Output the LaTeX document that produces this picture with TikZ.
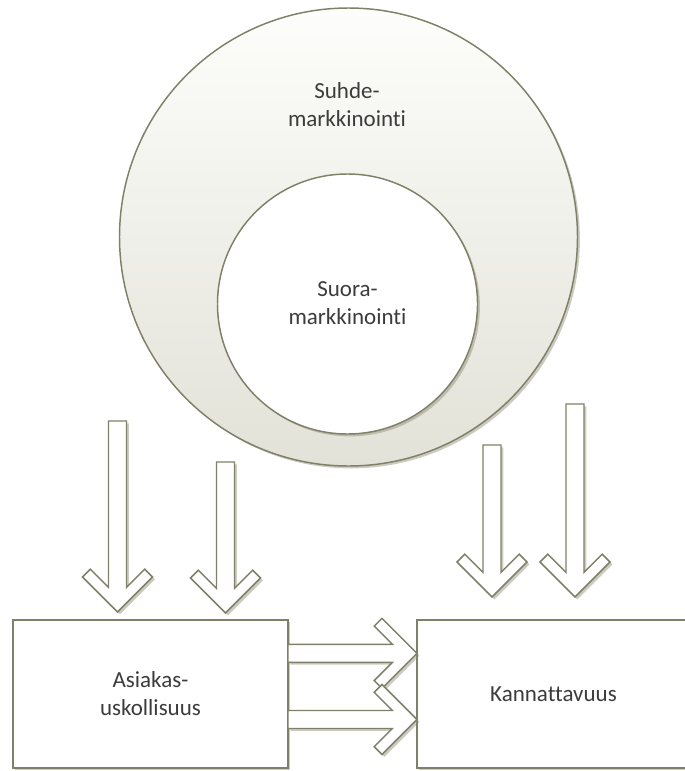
\documentclass[tikz,border=0pt]{standalone}
\usepackage{fontspec}
\setmainfont{Carlito}[Ligatures={NoCommon,NoContextual}]
\usetikzlibrary{shadows,calc}

\definecolor{edge}{RGB}{128,128,104}
\definecolor{shade}{RGB}{140,140,118}
\definecolor{ringlow}{RGB}{226,226,216}
\definecolor{ringtop}{RGB}{253,253,251}
\definecolor{label}{RGB}{60,60,60}

\tikzset{
  softshadow/.style={drop shadow={shadow xshift=1.8pt, shadow yshift=-1.8pt, fill=shade, opacity=0.45}},
  outline/.style={draw=edge, line width=1.1pt},
  blockarrow/.style={outline, fill=white, line join=miter, softshadow},
  caption/.style={text=label, align=center, font=\fontsize{17.25}{21}\selectfont, inner sep=0pt},
  framebox/.style={outline, fill=white, softshadow, outer sep=0pt, minimum height=111pt},
}

% downward block arrow: name, shaft centre x, shaft top y, tip y
\newcommand\downblock[4]{%
  \coordinate (#1) at (#2,#4);
  \draw[blockarrow] (#1) -- ++(35,-35) -- ++(-7.8,-7.8) -- ++(-18.2,18.2)
    -- ({#2+9},#3) -- ({#2-9},#3) -- ({#2-9},{#4-24.6})
    -- ++(-18.2,-18.2) -- ++(-7.8,7.8) -- cycle;
}

% rightward block arrow from one box to the other at height y
\newcommand\rightblock[4]{% name, source node, target node, y
  \coordinate (#1-s) at (#2.east |- 0,#4);
  \coordinate (#1-t) at (#3.west |- 0,#4);
  \draw[blockarrow] (#1-t) -- ++(-35,-35) -- ++(-7.8,7.8) -- ++(18.2,18.2)
    -- ($(#1-s)+(0,-9)$) -- ($(#1-s)+(0,9)$) -- ($(#1-t)+(-24.6,9)$)
    -- ++(-18.2,18.2) -- ++(7.8,7.8) -- cycle;
}

\begin{document}
\begin{tikzpicture}[x=0.75pt, y=-0.75pt]
  \useasboundingbox (0,0) rectangle (685,771);

  % nested circles
  \node[circle, outline, top color=ringtop, bottom color=ringlow, softshadow,
        minimum size=343.5pt, inner sep=0pt] (outer) at (348.5,237) {};
  \node[circle, outline, fill=white, softshadow,
        minimum size=195pt, inner sep=0pt] (inner) at (347.5,304) {};
  \node[caption] (outerlabel) at (347,104.5) {Suhde-\\markkinointi};
  \node[caption] (innerlabel) at (347.5,302.8) {Suora-\\markkinointi};

  % arrows pointing down onto the boxes
  \downblock{d1}{117.5}{421}{612}
  \downblock{d2}{225.5}{462}{613}
  \downblock{d3}{492}{445}{597}
  \downblock{d4}{575}{404}{597}

  % boxes
  \node[framebox, caption, minimum width=206.25pt, minimum height=111pt]
        (loyalty) at (150.5,694) {Asiakas-\\uskollisuus};
  \node[framebox, caption, minimum width=204.75pt, minimum height=111pt]
        (profit) at (553.5,694) {Kannattavuus};

  % arrows between the boxes
  \rightblock{r1}{loyalty}{profit}{653.3}
  \rightblock{r2}{loyalty}{profit}{719.5}
\end{tikzpicture}
\end{document}
